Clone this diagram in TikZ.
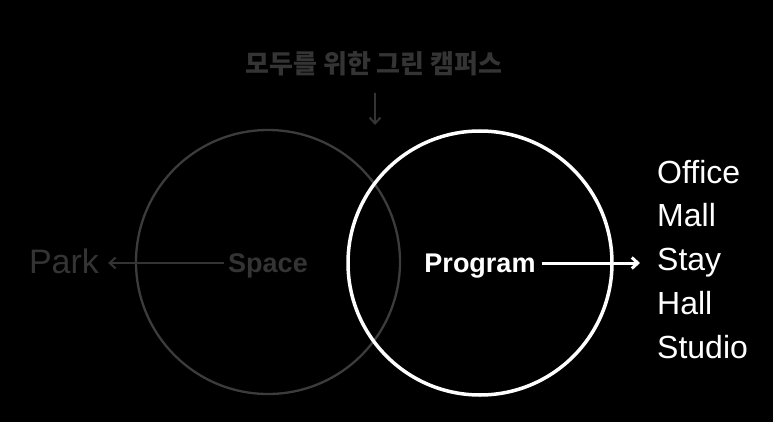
\documentclass[tikz,border=0pt]{standalone}
\usepackage{fontspec}
\setmainfont{Liberation Sans}
\newfontfamily\krfont{Noto Sans CJK KR}
\usetikzlibrary{arrows.meta}
\definecolor{dimgray}{RGB}{52,52,52}
\definecolor{dimline}{RGB}{60,60,60}
\tikzset{
  lbl/.style={inner sep=0pt, anchor=base},
  listitem/.style={inner sep=0pt, anchor=base west, text=white, font=\fontsize{32}{34}\selectfont},
  ring/.style={circle, draw, inner sep=0pt, minimum size=264pt},
  barb/.style={-{Straight Barb[length=6pt,width=11pt]}}
}
\begin{document}
\begin{tikzpicture}[x=1pt,y=-1pt]
\fill[black] (0,0) rectangle (773,422);
\useasboundingbox (0,0) rectangle (773,422);

% circles
\node[ring, draw=dimline, line width=2.3pt] (lc) at (268,262) {};
\node[ring, draw=white, line width=3.5pt] (rc) at (480,263) {};

% top title and arrow
\node[inner sep=0pt, text=dimgray, font=\krfont\bfseries\fontsize{26}{28}\selectfont] (title) at (374,64) {모두를 위한 그린 캠퍼스};
\coordinate (dtop) at (375,93);
\coordinate (dbot) at (375,125);
\draw[barb, dimgray, line width=2pt] (dtop) -- (dbot);

% left side
\node[lbl, text=dimgray, font=\bfseries\fontsize{27}{29}\selectfont] (space) at (268,272) {Space};
\node[lbl, text=dimgray, font=\fontsize{34}{36}\selectfont] (park) at (64,273) {Park};
\draw[barb, dimgray, line width=2pt] ([xshift=-4pt]space.west |- 0,263) -- ([xshift=9pt]park.east |- 0,263);

% right side
\node[lbl, text=white, font=\bfseries\fontsize{27}{29}\selectfont] (program) at (480,272) {Program};
\coordinate (ptip) at (640,263);
\draw[barb, white, line width=3pt] ([xshift=6pt]program.east |- 0,263) -- (ptip);

\node[listitem] (office) at (657,183) {Office};
\node[listitem] (mall) at (657,226.75) {Mall};
\node[listitem] (stay) at (657,270.5) {Stay};
\node[listitem] (hall) at (657,314.25) {Hall};
\node[listitem] (studio) at (657,358) {Studio};
\end{tikzpicture}
\end{document}
